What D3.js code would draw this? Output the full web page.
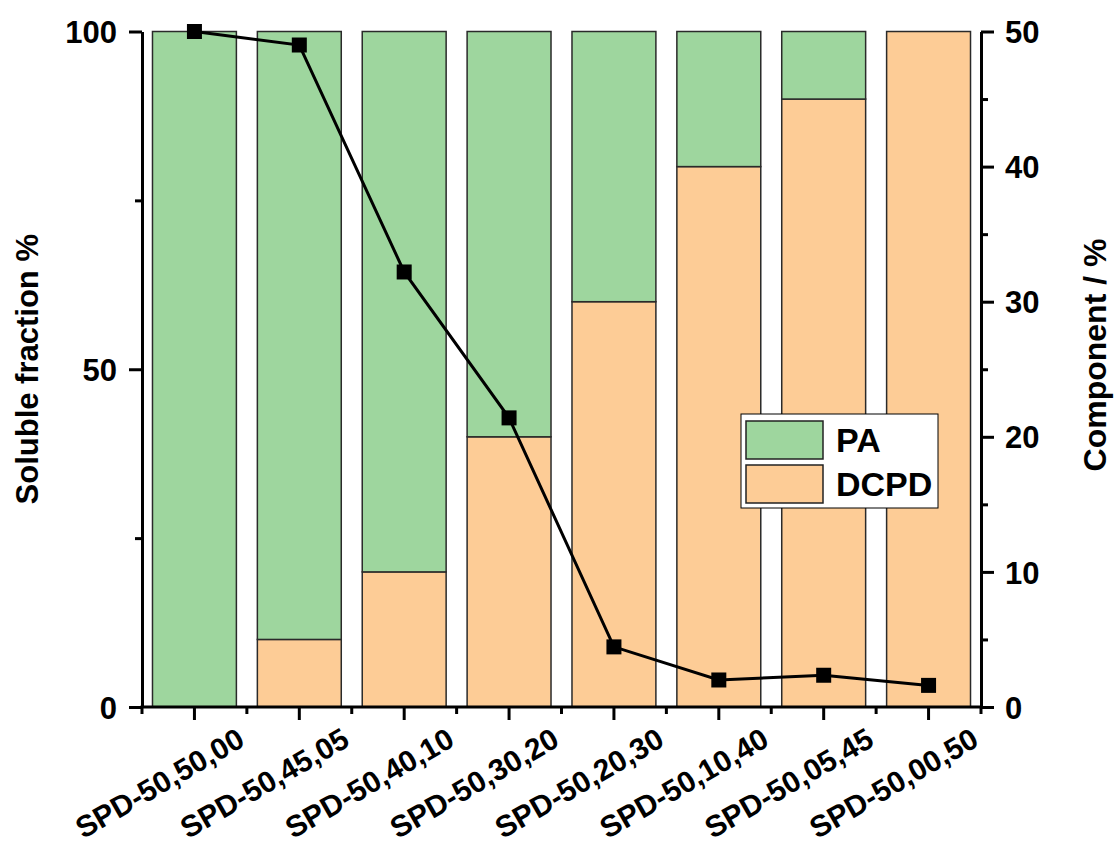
<!DOCTYPE html>
<html>
<head>
<meta charset="utf-8">
<script src="https://cdn.jsdelivr.net/npm/d3@7"></script>
<style>
  html, body { margin: 0; padding: 0; background: #fff; }
  svg text { font-family: "Liberation Sans", Arial, sans-serif; font-weight: bold; fill: #000; }
</style>
</head>
<body>
<svg id="chart" width="1117" height="846"></svg>
<script>
// Sample names (SPD-50, PA, DCPD content)
const categories = ["SPD-50,50,00", "SPD-50,45,05", "SPD-50,40,10", "SPD-50,30,20",
                    "SPD-50,20,30", "SPD-50,10,40", "SPD-50,05,45", "SPD-50,00,50"];
// Component content (%), right axis
const dcpdValues = [0, 5, 10, 20, 30, 40, 45, 50];
const paValues   = [50, 45, 40, 30, 20, 10, 5, 0];
// Soluble fraction (%), left axis
const solubleValues = [100, 98.0, 64.4, 42.8, 8.9, 4.0, 4.7, 3.2];
// Axis ticks
const leftTicks = [0, 50, 100];
const leftMinorTicks = [25, 75];
const rightTicks = [0, 10, 20, 30, 40, 50];
const rightMinorTicks = [5, 15, 25, 35, 45];
const seriesNames = ["PA", "DCPD"];

const GREEN = "#9ed69e";
const ORANGE = "#fdcc96";

const svg = d3.select("#chart");
const m = { left: 142, right: 981, top: 31.5, bottom: 707 };

const x = d3.scaleBand().domain(categories).range([m.left, m.right])
  .paddingInner(0.2).paddingOuter(0.1);
const yLeft = d3.scaleLinear().domain([0, 100]).range([m.bottom, m.top]);
const yRight = d3.scaleLinear().domain([0, 50]).range([m.bottom, m.top]);

// Stacked bars: DCPD at the bottom, PA on top
const rows = categories.map((c, i) => ({ cat: c, DCPD: dcpdValues[i], PA: paValues[i] }));
const stack = d3.stack().keys(["DCPD", "PA"])(rows);
const fills = { DCPD: ORANGE, PA: GREEN };

const barG = svg.append("g");
stack.forEach(layer => {
  barG.selectAll(null).data(layer.filter(d => d[1] - d[0] > 0)).join("rect")
    .attr("x", d => x(d.data.cat))
    .attr("width", x.bandwidth())
    .attr("y", d => yRight(d[1]))
    .attr("height", d => yRight(d[0]) - yRight(d[1]))
    .attr("fill", fills[layer.key])
    .attr("stroke", "#2a2a2a")
    .attr("stroke-width", 1.5);
});

// Soluble fraction line with square markers
const cx = c => x(c) + x.bandwidth() / 2;
const lineData = categories.map((c, i) => ({ cat: c, v: solubleValues[i] }));
svg.append("path")
  .datum(lineData)
  .attr("fill", "none")
  .attr("stroke", "#000")
  .attr("stroke-width", 3)
  .attr("d", d3.line().x(d => cx(d.cat)).y(d => yLeft(d.v)));
const ms = 15;
svg.selectAll(".mk").data(lineData).join("rect")
  .attr("class", "mk")
  .attr("x", d => cx(d.cat) - ms / 2)
  .attr("y", d => yLeft(d.v) - ms / 2)
  .attr("width", ms).attr("height", ms)
  .attr("fill", "#000");

// Axes
function styleAxis(g) {
  g.select(".domain").attr("stroke", "#000").attr("stroke-width", 3);
  g.selectAll(".tick line").attr("stroke", "#000").attr("stroke-width", 3);
}

// Left axis
const gl = svg.append("g").attr("transform", `translate(${m.left},0)`)
  .call(d3.axisLeft(yLeft).tickValues(leftTicks).tickSize(13).tickPadding(12).tickSizeOuter(0));
styleAxis(gl);
gl.selectAll(".tick text").style("font-size", "31px").attr("dy", "0.36em");
const glm = svg.append("g").attr("transform", `translate(${m.left},0)`)
  .call(d3.axisLeft(yLeft).tickValues(leftMinorTicks).tickSize(7).tickFormat("").tickSizeOuter(0));
styleAxis(glm);
glm.select(".domain").remove();

// Right axis
const gr = svg.append("g").attr("transform", `translate(${m.right},0)`)
  .call(d3.axisRight(yRight).tickValues(rightTicks).tickSize(13).tickPadding(11).tickSizeOuter(0));
styleAxis(gr);
gr.selectAll(".tick text").style("font-size", "31px").attr("dy", "0.36em");
const grm = svg.append("g").attr("transform", `translate(${m.right},0)`)
  .call(d3.axisRight(yRight).tickValues(rightMinorTicks).tickSize(7).tickFormat("").tickSizeOuter(0));
styleAxis(grm);
grm.select(".domain").remove();

// Bottom axis: major ticks at categories, minor ticks between them
const gb = svg.append("g").attr("transform", `translate(0,${m.bottom})`)
  .call(d3.axisBottom(x).tickSize(13).tickSizeOuter(0).tickFormat(""));
styleAxis(gb);
gb.select(".domain").attr("d", `M${m.left - 1.5},0H${m.right + 1.5}`);
const step = x.step();
const minorX = d3.range(categories.length + 1).map(i => m.left + i * step);
gb.selectAll(".minor").data(minorX).join("line")
  .attr("class", "minor")
  .attr("x1", d => d).attr("x2", d => d)
  .attr("y1", 0).attr("y2", 7)
  .attr("stroke", "#000").attr("stroke-width", 3);

// Rotated category labels
gb.selectAll(".xl").data(categories).join("text")
  .attr("class", "xl")
  .attr("text-anchor", "end")
  .style("font-size", "30px")
  .attr("transform", d => `translate(${cx(d) + 52},${38}) rotate(-30)`)
  .text(d => d);

// Axis titles
svg.append("text")
  .attr("transform", `translate(38,${(m.top + m.bottom) / 2}) rotate(-90)`)
  .attr("text-anchor", "middle")
  .style("font-size", "31px")
  .text("Soluble fraction %");
svg.append("text")
  .attr("transform", `translate(1106,355) rotate(-90)`)
  .attr("text-anchor", "middle")
  .style("font-size", "32px")
  .text("Component / %");

// Legend
const lg = svg.append("g");
lg.append("rect")
  .attr("x", 741).attr("y", 414).attr("width", 197).attr("height", 94)
  .attr("fill", "#fff").attr("stroke", "#000").attr("stroke-width", 1);
const legendFills = [GREEN, ORANGE];
seriesNames.forEach((name, i) => {
  const y0 = 421 + i * 44;
  lg.append("rect")
    .attr("x", 746).attr("y", y0).attr("width", 77).attr("height", 38)
    .attr("fill", legendFills[i]).attr("stroke", "#222").attr("stroke-width", 1.5);
  lg.append("text")
    .attr("x", 836).attr("y", y0 + 31)
    .style("font-size", "34px")
    .text(name);
});
</script>
</body>
</html>
